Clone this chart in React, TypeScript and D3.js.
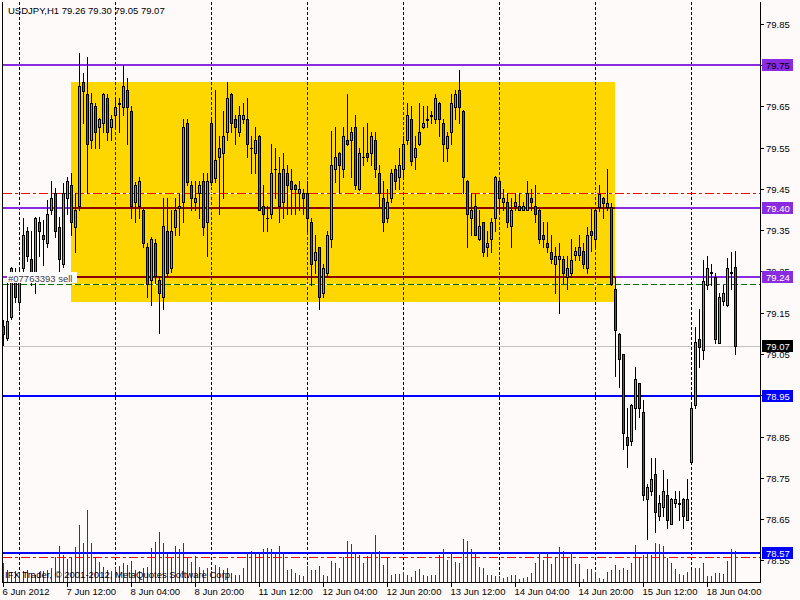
import React, { useEffect } from 'react';
import * as d3 from 'd3';

const symbolTitle = 'USDJPY,H1  79.26 79.30 79.05 79.07';
const copyright = 'IFX Trader, © 2001-2012, MetaQuotes Software Corp.';
const orderLabel = '#07763393 sell';

const opens = [
  79.117, 79.088, 79.139, 79.248, 79.177, 79.258, 79.347, 79.280, 79.229, 79.369,
  79.338, 79.318, 79.399, 79.440, 79.359, 79.268, 79.427, 79.460, 79.359, 79.409,
  79.709, 79.680, 79.569, 79.650, 79.600, 79.609, 79.670, 79.600, 79.629, 79.657,
  79.648, 79.690, 79.639, 79.418, 79.409, 79.399, 79.309, 79.229, 79.318, 79.229,
  79.189, 79.348, 79.258, 79.359, 79.405, 79.418, 79.609, 79.460, 79.418, 79.440,
  79.469, 79.369, 79.609, 79.477, 79.528, 79.538, 79.589, 79.680, 79.619, 79.589,
  79.619, 79.619, 79.549, 79.538, 79.579, 79.409, 79.379, 79.389, 79.498, 79.488,
  79.418, 79.488, 79.469, 79.460, 79.440, 79.440, 79.440, 79.369, 79.278, 79.309,
  79.199, 79.247, 79.328, 79.498, 79.538, 79.498, 79.569, 79.569, 79.600, 79.449,
  79.527, 79.538, 79.538, 79.569, 79.488, 79.427, 79.379, 79.427, 79.498, 79.478,
  79.498, 79.569, 79.619, 79.528, 79.558, 79.600, 79.618, 79.628, 79.619, 79.659,
  79.609, 79.549, 79.589, 79.648, 79.690, 79.639, 79.469, 79.379, 79.409, 79.328,
  79.369, 79.309, 79.328, 79.379, 79.469, 79.418, 79.418, 79.360, 79.409, 79.409,
  79.399, 79.399, 79.427, 79.409, 79.399, 79.339, 79.318, 79.298, 79.267, 79.280,
  79.280, 79.237, 79.247, 79.289, 79.289, 79.299, 79.258, 79.347, 79.328, 79.407,
  79.427, 79.407, 79.407, 79.208, 79.098, 79.049, 78.848, 78.838, 78.918, 78.979,
  78.909, 78.698, 78.717, 78.758, 78.658, 78.678, 78.707, 78.638, 78.688, 78.687,
  78.698, 78.648, 78.787, 78.927, 79.087, 79.059, 79.218, 79.246, 79.237, 79.077,
  79.178, 79.168, 79.246, 79.26,
];
const highs = [
  79.133, 79.222, 79.262, 79.258, 79.254, 79.379, 79.359, 79.347, 79.383, 79.383,
  79.375, 79.423, 79.470, 79.452, 79.383, 79.464, 79.480, 79.488, 79.440, 79.779,
  79.730, 79.771, 79.682, 79.658, 79.621, 79.682, 79.680, 79.629, 79.674, 79.670,
  79.751, 79.718, 79.650, 79.468, 79.480, 79.401, 79.318, 79.334, 79.328, 79.238,
  79.427, 79.427, 79.399, 79.427, 79.440, 79.619, 79.619, 79.469, 79.469, 79.469,
  79.488, 79.488, 79.625, 79.690, 79.579, 79.639, 79.709, 79.682, 79.629, 79.650,
  79.659, 79.670, 79.579, 79.600, 79.581, 79.460, 79.409, 79.558, 79.549, 79.528,
  79.538, 79.508, 79.498, 79.461, 79.469, 79.449, 79.469, 79.379, 79.339, 79.310,
  79.267, 79.348, 79.591, 79.600, 79.540, 79.600, 79.680, 79.600, 79.629, 79.549,
  79.600, 79.609, 79.589, 79.589, 79.508, 79.469, 79.449, 79.498, 79.508, 79.549,
  79.579, 79.659, 79.650, 79.579, 79.659, 79.650, 79.650, 79.639, 79.680, 79.661,
  79.619, 79.589, 79.680, 79.690, 79.739, 79.641, 79.471, 79.440, 79.440, 79.399,
  79.371, 79.348, 79.379, 79.481, 79.471, 79.449, 79.440, 79.427, 79.440, 79.440,
  79.418, 79.469, 79.449, 79.460, 79.401, 79.369, 79.369, 79.339, 79.309, 79.318,
  79.288, 79.288, 79.328, 79.309, 79.338, 79.318, 79.359, 79.407, 79.407, 79.460,
  79.430, 79.498, 79.417, 79.237, 79.100, 79.050, 78.918, 78.928, 79.018, 78.980,
  78.939, 78.736, 78.797, 78.797, 78.708, 78.769, 78.748, 78.700, 78.717, 78.717,
  78.700, 78.748, 78.934, 79.116, 79.158, 79.278, 79.288, 79.267, 79.247, 79.198,
  79.218, 79.282, 79.298, 79.30,
];
const lows = [
  79.072, 79.084, 79.135, 79.175, 79.157, 79.234, 79.275, 79.217, 79.197, 79.288,
  79.266, 79.310, 79.390, 79.334, 79.238, 79.262, 79.389, 79.339, 79.298, 79.400,
  79.609, 79.440, 79.549, 79.549, 79.549, 79.589, 79.569, 79.569, 79.600, 79.589,
  79.629, 79.558, 79.379, 79.369, 79.379, 79.310, 79.189, 79.169, 79.221, 79.101,
  79.158, 79.238, 79.248, 79.339, 79.339, 79.369, 79.460, 79.399, 79.399, 79.379,
  79.339, 79.288, 79.460, 79.468, 79.389, 79.427, 79.569, 79.589, 79.558, 79.579,
  79.609, 79.528, 79.488, 79.488, 79.398, 79.347, 79.347, 79.379, 79.427, 79.369,
  79.379, 79.389, 79.389, 79.389, 79.399, 79.389, 79.347, 79.217, 79.247, 79.158,
  79.187, 79.238, 79.310, 79.468, 79.440, 79.478, 79.557, 79.478, 79.449, 79.448,
  79.508, 79.519, 79.508, 79.480, 79.407, 79.347, 79.369, 79.418, 79.449, 79.449,
  79.478, 79.558, 79.508, 79.498, 79.557, 79.599, 79.600, 79.609, 79.609, 79.579,
  79.519, 79.519, 79.558, 79.619, 79.609, 79.440, 79.309, 79.339, 79.338, 79.327,
  79.288, 79.288, 79.298, 79.347, 79.391, 79.399, 79.359, 79.309, 79.399, 79.398,
  79.398, 79.398, 79.399, 79.369, 79.318, 79.309, 79.298, 79.270, 79.199, 79.149,
  79.221, 79.208, 79.237, 79.278, 79.278, 79.258, 79.247, 79.299, 79.309, 79.397,
  79.379, 79.398, 79.218, 78.997, 78.969, 78.819, 78.777, 78.829, 78.867, 78.898,
  78.696, 78.601, 78.708, 78.619, 78.648, 78.658, 78.627, 78.637, 78.678, 78.648,
  78.627, 78.647, 78.786, 78.918, 79.018, 79.039, 79.208, 79.218, 79.077, 79.076,
  79.169, 79.167, 79.208, 79.05,
];
const closes = [
  79.099, 79.131, 79.258, 79.187, 79.248, 79.338, 79.288, 79.229, 79.379, 79.347,
  79.328, 79.389, 79.427, 79.347, 79.280, 79.440, 79.469, 79.369, 79.399, 79.700,
  79.688, 79.558, 79.659, 79.589, 79.619, 79.680, 79.589, 79.619, 79.648, 79.659,
  79.700, 79.648, 79.409, 79.460, 79.469, 79.318, 79.219, 79.328, 79.238, 79.199,
  79.360, 79.247, 79.348, 79.399, 79.409, 79.600, 79.468, 79.427, 79.427, 79.460,
  79.359, 79.469, 79.468, 79.520, 79.549, 79.579, 79.670, 79.609, 79.600, 79.629,
  79.629, 79.558, 79.550, 79.569, 79.399, 79.389, 79.380, 79.488, 79.499, 79.409,
  79.498, 79.460, 79.449, 79.449, 79.449, 79.427, 79.379, 79.267, 79.298, 79.187,
  79.258, 79.339, 79.508, 79.528, 79.508, 79.579, 79.558, 79.589, 79.460, 79.538,
  79.528, 79.528, 79.579, 79.498, 79.440, 79.369, 79.418, 79.488, 79.469, 79.508,
  79.558, 79.629, 79.519, 79.549, 79.589, 79.609, 79.620, 79.630, 79.670, 79.619,
  79.558, 79.579, 79.659, 79.680, 79.648, 79.478, 79.389, 79.399, 79.339, 79.360,
  79.298, 79.318, 79.369, 79.478, 79.427, 79.427, 79.369, 79.399, 79.418, 79.399,
  79.409, 79.440, 79.418, 79.389, 79.328, 79.328, 79.309, 79.280, 79.288, 79.288,
  79.247, 79.258, 79.279, 79.299, 79.309, 79.267, 79.338, 79.338, 79.398, 79.439,
  79.417, 79.417, 79.219, 79.107, 79.037, 78.858, 78.829, 78.927, 78.989, 78.918,
  78.708, 78.727, 78.748, 78.668, 78.688, 78.717, 78.648, 78.698, 78.698, 78.689,
  78.658, 78.698, 78.918, 79.078, 79.068, 79.228, 79.258, 79.248, 79.087, 79.188,
  79.199, 79.258, 79.248, 79.07,
];
const volumes = [
  149, 100, 80, 90, 70, 85, 95, 75, 60, 80, 90, 100, 110,
  197, 288, 216, 181, 203, 283, 456, 315, 576, 315, 197, 163,
  120, 100, 90, 110, 130, 150,
  136, 168, 100, 90, 110, 120,
  269, 323, 397, 309, 235, 197, 288, 261, 309, 203, 163, 208,
  120, 100, 110, 90,
  136, 123, 96, 109, 69, 56, 56, 109,
  243, 251, 235, 235, 261, 269, 261, 243, 288, 243,
  96, 101, 69, 56, 48, 128, 96, 96, 128, 56, 48, 168, 149, 109, 197, 328, 304, 243, 216, 149, 208, 243, 376, 251, 136, 197, 56, 64, 64,
  83, 56, 37, 91, 104, 56, 48, 56, 56, 216, 261, 176, 229, 163, 149, 341, 331, 261, 229, 123,
  109, 56, 56, 48, 48, 29, 37, 56, 56, 21, 29, 37, 75, 155, 243, 176, 229, 144, 197, 283,
  251, 197, 243, 144, 144, 21, 101, 101, 83, 29, 21, 83, 96, 136, 96, 109, 96, 149, 296, 203,
  216, 229, 216, 315, 304, 288, 189, 149, 101, 64, 56, 83, 96, 109, 109, 155, 48, 48, 69, 69,
  64, 168, 261, 248,
];

const timeLabels = [
  '6 Jun 2012', '7 Jun 12:00', '8 Jun 04:00', '8 Jun 20:00', '11 Jun 12:00', '12 Jun 04:00',
  '12 Jun 20:00', '13 Jun 12:00', '14 Jun 04:00', '14 Jun 20:00', '15 Jun 12:00', '18 Jun 04:00',
];
const barsPerLabel = 16;
const daySeparatorBars = [4, 28, 52, 76, 100, 124, 148, 172];
const priceTicks = d3.range(14).map((k) => +(79.85 - k * 0.1).toFixed(2));

const resistanceLevels = [79.75, 79.405, 79.237];
const resistanceLabels = ['79.75', '79.40', '79.24'];
const supportLevels = [78.947, 78.568];
const supportLabels = ['78.95', '78.57'];
const targetLevels = [79.44, 78.558];
const orderLevel = 79.22;
const bidPrice = 79.07;
const boxBars = [17, 153];
const boxPrices = [79.177, 79.709];

const FONT = 'Liberation Sans, Arial, sans-serif';
const FS = 9.5;

export default function App() {
  useEffect(() => {
    document.body.style.margin = '0';
  }, []);

  const n = closes.length;
  const x = d3.scaleLinear().domain([0, n - 1]).range([3, 3 + 4 * (n - 1)]);
  const y = d3.scaleLinear().domain([78.55, 79.85]).range([560.25, 24]);
  const vy = d3.scaleLinear().domain([0, 576]).range([582, 510]);

  const left = 3, right = 760, top = 2, bottom = 582;
  const px = (i: number) => Math.round(x(i));
  const py = (p: number) => Math.round(y(p));

  const boxX0 = px(boxBars[0]);
  const boxX1 = px(boxBars[1]);
  const boxY0 = py(boxPrices[1]);
  const boxY1 = py(boxPrices[0]);

  const purple = '#8A2BE2';
  const blue = '#0000FF';
  const bull = '#6495ED';
  const bear = '#E8201A';

  const priceBoxes = [
    ...resistanceLevels.map((p, k) => ({ p, t: resistanceLabels[k], bg: purple, fg: k === 0 ? '#000' : '#fff' })),
    ...supportLevels.map((p, k) => ({ p, t: supportLabels[k], bg: blue, fg: '#fff' })),
    { p: bidPrice, t: bidPrice.toFixed(2), bg: '#000', fg: '#fff' },
  ];

  return (
    <svg width={800} height={600} style={{ position: 'absolute', left: 0, top: 0, display: 'block' }}
      fontFamily={FONT} fontSize={FS}>
      <defs>
        <clipPath id="plot"><rect x={left} y={top} width={right - left} height={bottom - top} /></clipPath>
        <clipPath id="box"><rect x={boxX0} y={boxY0} width={boxX1 - boxX0} height={boxY1 - boxY0} /></clipPath>
      </defs>
      <rect x={0} y={0} width={800} height={600} fill="#FFFAFA" />

      <g clipPath="url(#plot)" shapeRendering="crispEdges">
        {daySeparatorBars.map((b) => (
          <line key={'g' + b} x1={px(b) + 0.5} x2={px(b) + 0.5} y1={top} y2={bottom} stroke="#000" strokeDasharray="3,2" />
        ))}
        <rect x={boxX0} y={boxY0} width={boxX1 - boxX0} height={boxY1 - boxY0} fill="#FFD700" />
        <g clipPath="url(#box)">
          {daySeparatorBars.map((b) => (
            <line key={'gb' + b} x1={px(b) + 0.5} x2={px(b) + 0.5} y1={top} y2={bottom} stroke={blue} strokeDasharray="3,2" />
          ))}
        </g>

        {resistanceLevels.map((p) => (
          <rect key={'r' + p} x={left} y={py(p) - 1} width={right - left} height={2} fill={purple} />
        ))}
        {supportLevels.map((p) => (
          <rect key={'s' + p} x={left} y={py(p) - 1} width={right - left} height={2} fill={blue} />
        ))}
        {targetLevels.map((p) => (
          <line key={'t' + p} x1={left} x2={right} y1={py(p) + 0.5} y2={py(p) + 0.5} stroke="#FF0000" strokeDasharray="9,3,3,3" />
        ))}
        <line x1={left} x2={right} y1={py(orderLevel) + 0.5} y2={py(orderLevel) + 0.5} stroke="#007000" strokeDasharray="6,3" />
        <line x1={left} x2={right} y1={py(bidPrice) + 0.5} y2={py(bidPrice) + 0.5} stroke="#C0C0C0" />

        <g clipPath="url(#box)">
          {resistanceLevels.map((p) => (
            <rect key={'rm' + p} x={left} y={py(p) - 1} width={right - left} height={2} fill="#8B0000" />
          ))}
          {targetLevels.map((p) => (
            <g key={'tw' + p}>
              <line x1={left} x2={right} y1={py(p) + 0.5} y2={py(p) + 0.5} stroke="#FFFFFF" />
              <line x1={left} x2={right} y1={py(p) + 0.5} y2={py(p) + 0.5} stroke="#FF0000" strokeDasharray="9,3,3,3" />
            </g>
          ))}
          <line x1={left} x2={right} y1={py(orderLevel) + 0.5} y2={py(orderLevel) + 0.5} stroke="#FFFFFF" />
          <line x1={left} x2={right} y1={py(orderLevel) + 0.5} y2={py(orderLevel) + 0.5} stroke="#007000" strokeDasharray="6,3" />
        </g>

        {volumes.map((v, i) => (
          <line key={'v' + i} x1={px(i) + 0.5} x2={px(i) + 0.5} y1={bottom} y2={Math.round(vy(v))} stroke="#006400" />
        ))}

        {closes.map((c, i) => {
          const o = opens[i];
          const cx = px(i);
          const yTop = py(Math.max(o, c));
          const yBot = py(Math.min(o, c));
          const up = c >= o;
          return (
            <g key={'c' + i}>
              <line x1={cx + 0.5} x2={cx + 0.5} y1={py(highs[i])} y2={py(lows[i]) + 1} stroke="#000" />
              {yBot - yTop < 1 ? (
                <line x1={cx - 1} x2={cx + 2} y1={yTop + 0.5} y2={yTop + 0.5} stroke="#000" />
              ) : (
                <rect x={cx - 0.5} y={yTop + 0.5} width={2} height={yBot - yTop} fill={up ? bull : bear} stroke="#000" />
              )}
            </g>
          );
        })}

        <rect x={7} y={py(resistanceLevels[2]) - 5} width={70} height={11} fill="#FFFFFF" />
      </g>

      <text x={8} y={py(resistanceLevels[2]) + 5} fill="#3C3C50">{orderLabel}</text>

      <g shapeRendering="crispEdges">
        <line x1={left - 0.5} x2={left - 0.5} y1={top} y2={bottom} stroke="#000" />
        <line x1={right + 0.5} x2={right + 0.5} y1={top} y2={bottom + 1} stroke="#000" />
        <line x1={left - 1} x2={right + 1} y1={bottom + 0.5} y2={bottom + 0.5} stroke="#000" />
        {priceTicks.map((p) => (
          <line key={'yt' + p} x1={right + 1} x2={right + 4} y1={py(p) + 0.5} y2={py(p) + 0.5} stroke="#000" />
        ))}
        {timeLabels.map((t, k) => (
          <line key={'xt' + k} x1={px(k * barsPerLabel) + 0.5} x2={px(k * barsPerLabel) + 0.5} y1={bottom + 1} y2={bottom + 5} stroke="#000" />
        ))}
      </g>
      {priceTicks.map((p) => (
        <text key={'yl' + p} x={766} y={py(p) + 4} fill="#000">{p.toFixed(2)}</text>
      ))}
      {timeLabels.map((t, k) => (
        <text key={'xl' + k} x={px(k * barsPerLabel) - 0.5} y={595} fill="#000">{t}</text>
      ))}

      {priceBoxes.map((b) => (
        <g key={'pb' + b.t}>
          <rect x={762} y={py(b.p) - 6} width={31} height={12} fill={b.bg} shapeRendering="crispEdges" />
          <text x={766} y={py(b.p) + 4} fill={b.fg}>{b.t}</text>
        </g>
      ))}

      <text x={8} y={14} fill="#000">{symbolTitle}</text>
      <text x={5} y={578} fill="#000">{copyright}</text>
    </svg>
  );
}
